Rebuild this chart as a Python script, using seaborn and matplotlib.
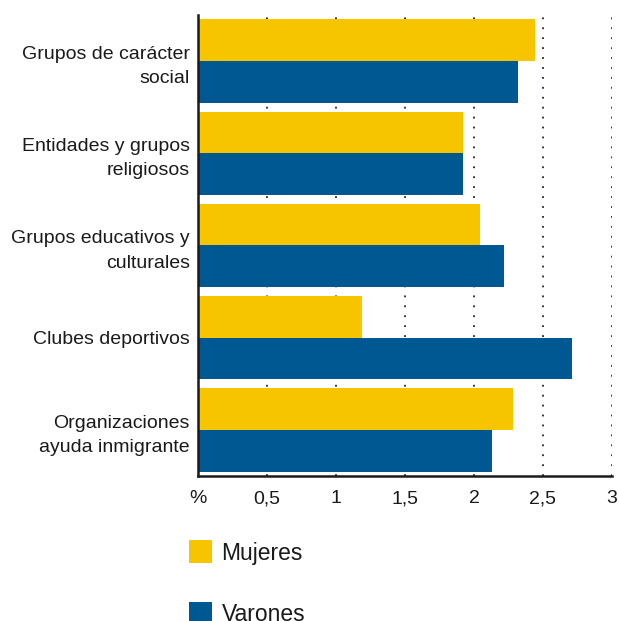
import matplotlib
matplotlib.use("Agg")
import matplotlib.pyplot as plt
import seaborn as sns
import pandas as pd
from matplotlib.patches import Patch

categories = ["Grupos de carácter\nsocial", "Entidades y grupos\nreligiosos",
              "Grupos educativos y\nculturales", "Clubes deportivos",
              "Organizaciones\nayuda inmigrante"]
mujeres = [2.44, 1.92, 2.04, 1.19, 2.28]
varones = [2.32, 1.92, 2.22, 2.71, 2.13]
series = ["Mujeres", "Varones"]
xticks = [0, 0.5, 1, 1.5, 2, 2.5, 3]
xticklabels = ["%", "0,5", "1", "1,5", "2", "2,5", "3"]

colors = {"Mujeres": "#F7C400", "Varones": "#005893"}

df = pd.DataFrame({
    "cat": categories * 2,
    "val": mujeres + varones,
    "serie": [series[0]] * 5 + [series[1]] * 5,
})

sns.set_style("white")
plt.rcParams['font.family'] = ['Liberation Sans', 'DejaVu Sans']

fig = plt.figure(figsize=(6.19, 6.21), dpi=100)
ax = fig.add_axes([198/619, 1-476/621, (612-198)/619, (476-15)/621])

for x in xticks[1:]:
    ax.axvline(x, color="#222222", linestyle=(0, (1, 4.5)), linewidth=1.3, zorder=0)

sns.barplot(data=df, x="val", y="cat", hue="serie", orient="h",
            palette=colors, width=0.905, ax=ax, legend=False,
            saturation=1, linewidth=0, zorder=2)

ax.set_xlim(0, 3)
ax.set_ylim(4.5, -0.5)
ax.set_xlabel("")
ax.set_ylabel("")
ax.set_xticks(xticks)
ax.set_xticklabels(xticklabels, fontsize=14, color="#1a1a1a", va="baseline")
ax.set_yticks(range(5))
ax.set_yticklabels(categories, fontsize=14, color="#1a1a1a", linespacing=1.55)
ax.set_yticks([i - 0.5 for i in range(6)], minor=True)
ax.tick_params(axis="y", which="major", length=0, pad=6)
ax.tick_params(axis="y", which="minor", length=6, width=1.6, color="#1a1a1a", direction="out")
ax.tick_params(axis="x", which="major", length=6, width=1.6, color="#1a1a1a", direction="out", pad=13.5)

for s in ["top", "right"]:
    ax.spines[s].set_visible(False)
for s in ["left", "bottom"]:
    ax.spines[s].set_linewidth(1.8)
    ax.spines[s].set_color("#1a1a1a")
ax.spines["bottom"].set_bounds(0, 3)

handles = [Patch(facecolor=colors[s], edgecolor="none") for s in series]
fig.legend(handles, series, loc="upper left", bbox_to_anchor=(178/619, 1-529/621),
           frameon=False, fontsize=16.5, handlelength=1.0, handleheight=1.15,
           labelspacing=1.64, borderpad=0, handletextpad=0.4, labelcolor="#1a1a1a")

fig.savefig("out.png", dpi=100)
